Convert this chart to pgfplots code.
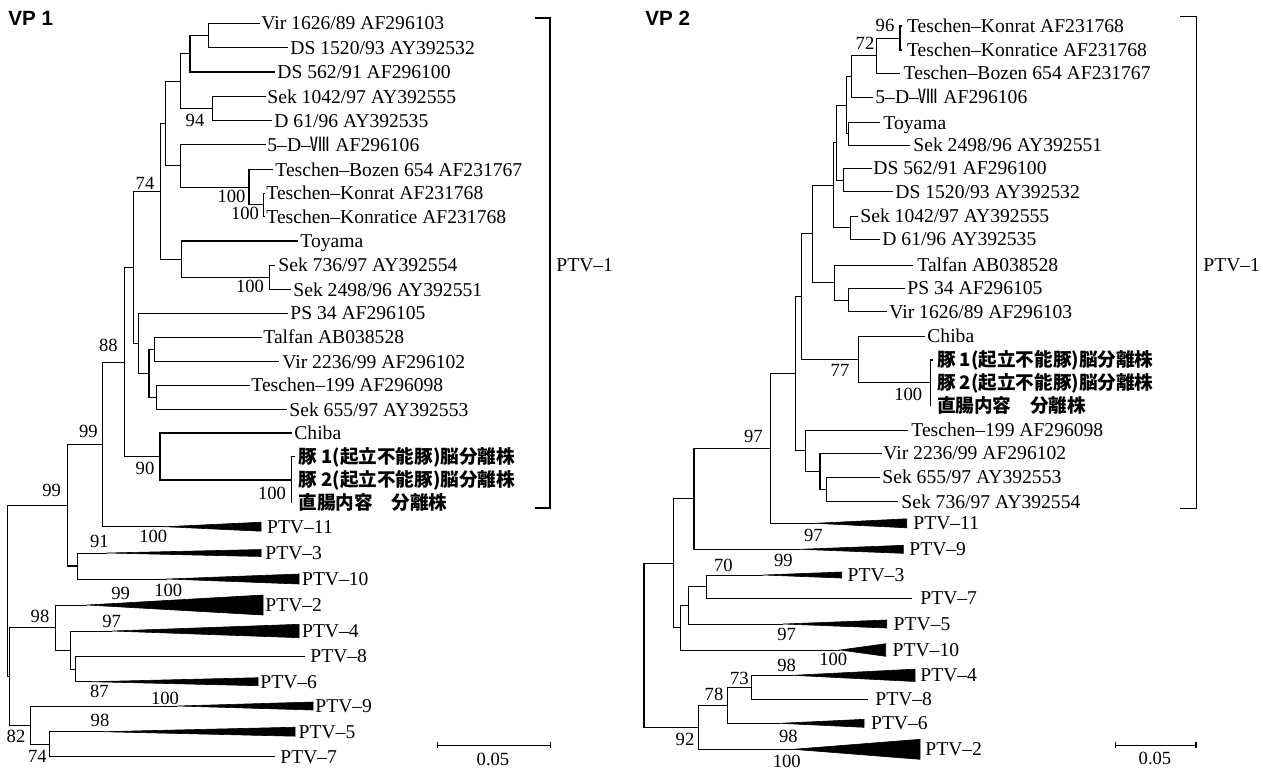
\documentclass[border=0pt]{standalone}
\usepackage{fontspec}
\setmainfont{Liberation Serif}
\newfontfamily\cjk{Noto Sans CJK JP}
\newfontfamily\hfont{Liberation Sans}
\usepackage{pgfplots}
\pgfplotsset{compat=1.18}
\begin{document}
\begin{tikzpicture}[
  lf/.style={anchor=base west, inner sep=0pt, yshift=-3.3pt, font=\fontsize{9.8}{11}\selectfont},
  bs/.style={anchor=center, inner sep=0pt, font=\fontsize{9.3}{11}\selectfont},
  pg/.style={anchor=base west, inner sep=0pt, yshift=-3.4pt, font=\fontsize{9.3}{11}\selectfont\cjk\bfseries},
  tt/.style={anchor=base west, inner sep=0pt, yshift=-3.7pt, font=\fontsize{10.3}{12}\selectfont\hfont\bfseries},
]
\begin{axis}[
  scale only axis, width=631.5pt, height=386pt,
  xmin=0, xmax=1263, ymin=0, ymax=772, y dir=reverse,
  hide axis, clip=false,
  cycle list={{black, solid, line width=0.55pt, mark=none}},
]
\addplot[draw=none] coordinates {(0,0) (1263,772)};
% ================= VP 1 =================
\addplot coordinates {(260,23) (208,23) (208,47.5) (288,47.5)};
\addplot coordinates {(208,35.25) (190,35.25) (190,72) (275,72)};
\addplot coordinates {(266,96.5) (212,96.5) (212,120.5) (272,120.5)};
\addplot coordinates {(190,53.6) (180.3,53.6) (180.3,108.5) (212,108.5)};
\addplot coordinates {(265,193) (263,193) (263,216.5) (265,216.5)};
\addplot coordinates {(273,169.5) (249,169.5) (249,204.75) (263,204.75)};
\addplot coordinates {(266,144.5) (180,144.5) (180,187.1) (249,187.1)};
\addplot coordinates {(180.3,81) (165.7,81) (165.7,165.8) (180,165.8)};
\addplot coordinates {(275,265) (269,265) (269,289.5) (291,289.5)};
\addplot coordinates {(298,241) (181.7,241) (181.7,277.25) (269,277.25)};
\addplot coordinates {(165.7,123.4) (160.3,123.4) (160.3,259.1) (181.7,259.1)};
\addplot coordinates {(262,337) (154.3,337) (154.3,361.5) (279,361.5)};
\addplot coordinates {(250,385) (156.3,385) (156.3,409.5) (287,409.5)};
\addplot coordinates {(154.3,349.25) (149,349.25) (149,397.25) (156.3,397.25)};
\addplot coordinates {(288,313) (138.7,313) (138.7,373.25) (149,373.25)};
\addplot coordinates {(160.3,191.3) (133.3,191.3) (133.3,343.1) (138.7,343.1)};
\addplot coordinates {(294.5,456.5) (291.7,456.5) (291.7,503)};
\addplot coordinates {(292,433) (160,433) (160,480) (291.7,480)};
\addplot coordinates {(133.3,267.2) (124,267.2) (124,456.5) (160,456.5)};
\addplot coordinates {(124,361.9) (102.7,361.9) (102.7,526.7) (165,526.7)};
\addplot coordinates {(107,553) (77,553) (77,579) (167,579)};
\addplot coordinates {(102.7,444.3) (67.3,444.3) (67.3,566) (77,566)};
\addplot coordinates {(305,656) (75,656) (75,681.7) (92,681.7)};
\addplot coordinates {(112,631) (70.7,631) (70.7,668.9) (75,668.9)};
\addplot coordinates {(87,605) (55.3,605) (55.3,650) (70.7,650)};
\addplot coordinates {(103,731.7) (49.3,731.7) (49.3,756.7) (275,756.7)};
\addplot coordinates {(177,706) (30,706) (30,744.2) (49.3,744.2)};
\addplot coordinates {(55.3,627.5) (9.3,627.5) (9.3,725.1) (30,725.1)};
\addplot coordinates {(67.3,505.2) (7.3,505.2) (7.3,676.3) (9.3,676.3)};
% triangles VP1
\addplot[fill=black, line width=0.3pt] coordinates {(165,526.7) (261,522.2) (261,531.2)} -- cycle;
\addplot[fill=black, line width=0.3pt] coordinates {(107,553) (261,549.5) (261,556.5)} -- cycle;
\addplot[fill=black, line width=0.3pt] coordinates {(167,579) (299,574) (299,584)} -- cycle;
\addplot[fill=black, line width=0.3pt] coordinates {(87,605) (263,595) (263,615)} -- cycle;
\addplot[fill=black, line width=0.3pt] coordinates {(112,631) (299,624.3) (299,637.7)} -- cycle;
\addplot[fill=black, line width=0.3pt] coordinates {(92,681.7) (258,677.7) (258,685.7)} -- cycle;
\addplot[fill=black, line width=0.3pt] coordinates {(177,706) (313,702) (313,710)} -- cycle;
\addplot[fill=black, line width=0.3pt] coordinates {(103,731.7) (295,727.2) (295,736.2)} -- cycle;
% bracket and scale VP1
\addplot coordinates {(535,18) (550,18) (550,508) (535,508)};
\addplot coordinates {(437,742) (437,748)};
\addplot coordinates {(437,745) (550,745)};
\addplot coordinates {(550,742) (550,748)};
% ================= VP 2 =================
\addplot coordinates {(902,26) (900,26) (900,50) (902,50)};
\addplot coordinates {(900,38) (876.7,38) (876.7,73.3) (900,73.3)};
\addplot coordinates {(876.7,55.7) (851.7,55.7) (851.7,97.3) (873,97.3)};
\addplot coordinates {(880,122.7) (848,122.7) (848,145) (910,145)};
\addplot coordinates {(851.7,76.5) (846.5,76.5) (846.5,133.9) (848,133.9)};
\addplot coordinates {(871.7,168.3) (843.3,168.3) (843.3,191.7) (893,191.7)};
\addplot coordinates {(846.5,105.2) (836.7,105.2) (836.7,180) (843.3,180)};
\addplot coordinates {(858,216) (850.7,216) (850.7,239.3) (880,239.3)};
\addplot coordinates {(836.7,142.6) (833.3,142.6) (833.3,227.7) (850.7,227.7)};
\addplot coordinates {(905,288.3) (848.3,288.3) (848.3,311.7) (886.7,311.7)};
\addplot coordinates {(913,265) (834.3,265) (834.3,300) (848.3,300)};
\addplot coordinates {(833.3,185.1) (812.3,185.1) (812.3,282.5) (834.3,282.5)};
\addplot coordinates {(933,360) (930.7,360) (930.7,406)};
\addplot coordinates {(925,336) (858.3,336) (858.3,382.7) (930.7,382.7)};
\addplot coordinates {(812.3,233.8) (801.7,233.8) (801.7,359.4) (858.3,359.4)};
\addplot coordinates {(880,477.3) (826.7,477.3) (826.7,501.7) (898,501.7)};
\addplot coordinates {(881.7,453.3) (820,453.3) (820,489.5) (826.7,489.5)};
\addplot coordinates {(908.3,430) (805,430) (805,471.4) (820,471.4)};
\addplot coordinates {(801.7,296.6) (795,296.6) (795,450.7) (805,450.7)};
\addplot coordinates {(795,373.7) (770,373.7) (770,523.3) (815,523.3)};
\addplot coordinates {(770,448.5) (694,448.5) (694,549.3) (800,549.3)};
\addplot coordinates {(763,575) (706,575) (706,598.3) (911.7,598.3)};
\addplot coordinates {(706,586.7) (688.3,586.7) (688.3,624) (783,624)};
\addplot coordinates {(688.3,605.3) (680.7,605.3) (680.7,650) (840,650)};
\addplot coordinates {(694,498.9) (673.3,498.9) (673.3,627.7) (680.7,627.7)};
\addplot coordinates {(793,675.3) (751.3,675.3) (751.3,699.3) (868,699.3)};
\addplot coordinates {(751.3,687.3) (727.3,687.3) (727.3,723.3) (780,723.3)};
\addplot coordinates {(727.3,705.3) (698.3,705.3) (698.3,749.3) (793,749.3)};
\addplot coordinates {(673.3,563.3) (644,563.3) (644,727.3) (698.3,727.3)};
% triangles VP2
\addplot[fill=black, line width=0.3pt] coordinates {(815,523.3) (906.7,518.8) (906.7,527.8)} -- cycle;
\addplot[fill=black, line width=0.3pt] coordinates {(800,549.3) (903.3,545.3) (903.3,553.3)} -- cycle;
\addplot[fill=black, line width=0.3pt] coordinates {(763,575) (841.7,572) (841.7,578)} -- cycle;
\addplot[fill=black, line width=0.3pt] coordinates {(783,624) (886.7,620) (886.7,628)} -- cycle;
\addplot[fill=black, line width=0.3pt] coordinates {(840,650) (885.7,643.7) (885.7,656.3)} -- cycle;
\addplot[fill=black, line width=0.3pt] coordinates {(793,675.3) (915,669.1) (915,681.5)} -- cycle;
\addplot[fill=black, line width=0.3pt] coordinates {(780,723.3) (864,719.3) (864,727.3)} -- cycle;
\addplot[fill=black, line width=0.3pt] coordinates {(793,749.3) (920,739.3) (920,759.3)} -- cycle;
% bracket and scale VP2
\addplot coordinates {(1180,16.7) (1196,16.7) (1196,508.3) (1180,508.3)};
\addplot coordinates {(1115,742) (1115,748)};
\addplot coordinates {(1115,745) (1196,745)};
\addplot coordinates {(1196,742) (1196,748)};

% ---------- labels VP1 ----------
\node[tt] at (8,18) {VP 1};
\node[lf] at (261,23) {Vir 1626/89 AF296103};
\node[lf] at (290,47.5) {DS 1520/93 AY392532};
\node[lf] at (277,72) {DS 562/91 AF296100};
\node[lf] at (267,96.5) {Sek 1042/97 AY392555};
\node[lf] at (274,120.5) {D 61/96 AY392535};
\node[lf] at (267,144.5) {5–D–{\cjk Ⅷ} AF296106};
\node[lf] at (275,169.5) {Teschen–Bozen 654 AF231767};
\node[lf] at (266,193) {Teschen–Konrat AF231768};
\node[lf] at (266,216.5) {Teschen–Konratice AF231768};
\node[lf] at (300,241) {Toyama};
\node[lf] at (278,265) {Sek 736/97 AY392554};
\node[lf] at (293,289.5) {Sek 2498/96 AY392551};
\node[lf] at (290,313) {PS 34 AF296105};
\node[lf] at (263,337) {Talfan AB038528};
\node[lf] at (282,361.5) {Vir 2236/99 AF296102};
\node[lf] at (251,385) {Teschen–199 AF296098};
\node[lf] at (289,409.5) {Sek 655/97 AY392553};
\node[lf] at (294,433) {Chiba};
\node[pg] at (298,456.5) {豚 1(起立不能豚)脳分離株};
\node[pg] at (298,480) {豚 2(起立不能豚)脳分離株};
\node[pg] at (298,503) {直腸内容　分離株};
\node[lf] at (266.7,526.7) {PTV–11};
\node[lf] at (265,553) {PTV–3};
\node[lf] at (301.7,579) {PTV–10};
\node[lf] at (265,605) {PTV–2};
\node[lf] at (301.7,631) {PTV–4};
\node[lf] at (310,656) {PTV–8};
\node[lf] at (260,681.7) {PTV–6};
\node[lf] at (315,706) {PTV–9};
\node[lf] at (298.3,731.7) {PTV–5};
\node[lf] at (280,756.7) {PTV–7};
\node[lf] at (556,265) {PTV–1};
\node[bs] at (493,759) {0.05};
\node[bs] at (195,120) {94};
\node[bs] at (145,183.3) {74};
\node[bs] at (231.5,196.7) {100};
\node[bs] at (245,213.3) {100};
\node[bs] at (250,286.7) {100};
\node[bs] at (108.3,345) {88};
\node[bs] at (88.3,431.7) {99};
\node[bs] at (145,468.3) {90};
\node[bs] at (272,493) {100};
\node[bs] at (51.7,490) {99};
\node[bs] at (153.3,536.7) {100};
\node[bs] at (99.3,541.7) {91};
\node[bs] at (120.7,593.3) {99};
\node[bs] at (168.3,590) {100};
\node[bs] at (40,616) {98};
\node[bs] at (111.7,621.7) {97};
\node[bs] at (99.3,691.7) {87};
\node[bs] at (165,698.3) {100};
\node[bs] at (100,720) {98};
\node[bs] at (16,736.7) {82};
\node[bs] at (37.3,756.7) {74};
% ---------- labels VP2 ----------
\node[tt] at (645,18) {VP 2};
\node[lf] at (906.7,26) {Teschen–Konrat AF231768};
\node[lf] at (906.7,50) {Teschen–Konratice AF231768};
\node[lf] at (903.3,73.3) {Teschen–Bozen 654 AF231767};
\node[lf] at (875,97.3) {5–D–{\cjk Ⅷ} AF296106};
\node[lf] at (883,122.7) {Toyama};
\node[lf] at (913,145) {Sek 2498/96 AY392551};
\node[lf] at (873,168.3) {DS 562/91 AF296100};
\node[lf] at (895,191.7) {DS 1520/93 AY392532};
\node[lf] at (860,216) {Sek 1042/97 AY392555};
\node[lf] at (882,239.3) {D 61/96 AY392535};
\node[lf] at (917,265) {Talfan AB038528};
\node[lf] at (907,288.3) {PS 34 AF296105};
\node[lf] at (889,311.7) {Vir 1626/89 AF296103};
\node[lf] at (927,336) {Chiba};
\node[pg] at (936.7,360) {豚 1(起立不能豚)脳分離株};
\node[pg] at (936.7,382.7) {豚 2(起立不能豚)脳分離株};
\node[pg] at (936.7,406) {直腸内容　分離株};
\node[lf] at (911,430) {Teschen–199 AF296098};
\node[lf] at (883,453.3) {Vir 2236/99 AF296102};
\node[lf] at (882,477.3) {Sek 655/97 AY392553};
\node[lf] at (901,501.7) {Sek 736/97 AY392554};
\node[lf] at (913,523.3) {PTV–11};
\node[lf] at (909,549.3) {PTV–9};
\node[lf] at (847.3,575) {PTV–3};
\node[lf] at (920,598.3) {PTV–7};
\node[lf] at (893.3,624) {PTV–5};
\node[lf] at (892.3,650) {PTV–10};
\node[lf] at (920,675.3) {PTV–4};
\node[lf] at (875,699.3) {PTV–8};
\node[lf] at (870.7,723.3) {PTV–6};
\node[lf] at (925,749.3) {PTV–2};
\node[lf] at (1203,265) {PTV–1};
\node[bs] at (1155,758) {0.05};
\node[bs] at (885,25) {96};
\node[bs] at (865,43.3) {72};
\node[bs] at (840,370) {77};
\node[bs] at (908.3,394) {100};
\node[bs] at (753.3,436.7) {97};
\node[bs] at (813.3,535) {97};
\node[bs] at (783.3,560) {99};
\node[bs] at (723.3,565) {70};
\node[bs] at (786.7,634) {97};
\node[bs] at (833.3,659.3) {100};
\node[bs] at (786.7,665) {98};
\node[bs] at (739.3,678.3) {73};
\node[bs] at (714,694) {78};
\node[bs] at (788.3,736.7) {98};
\node[bs] at (685,739.3) {92};
\node[bs] at (786.7,761.7) {100};
\end{axis}
\end{tikzpicture}
\end{document}
